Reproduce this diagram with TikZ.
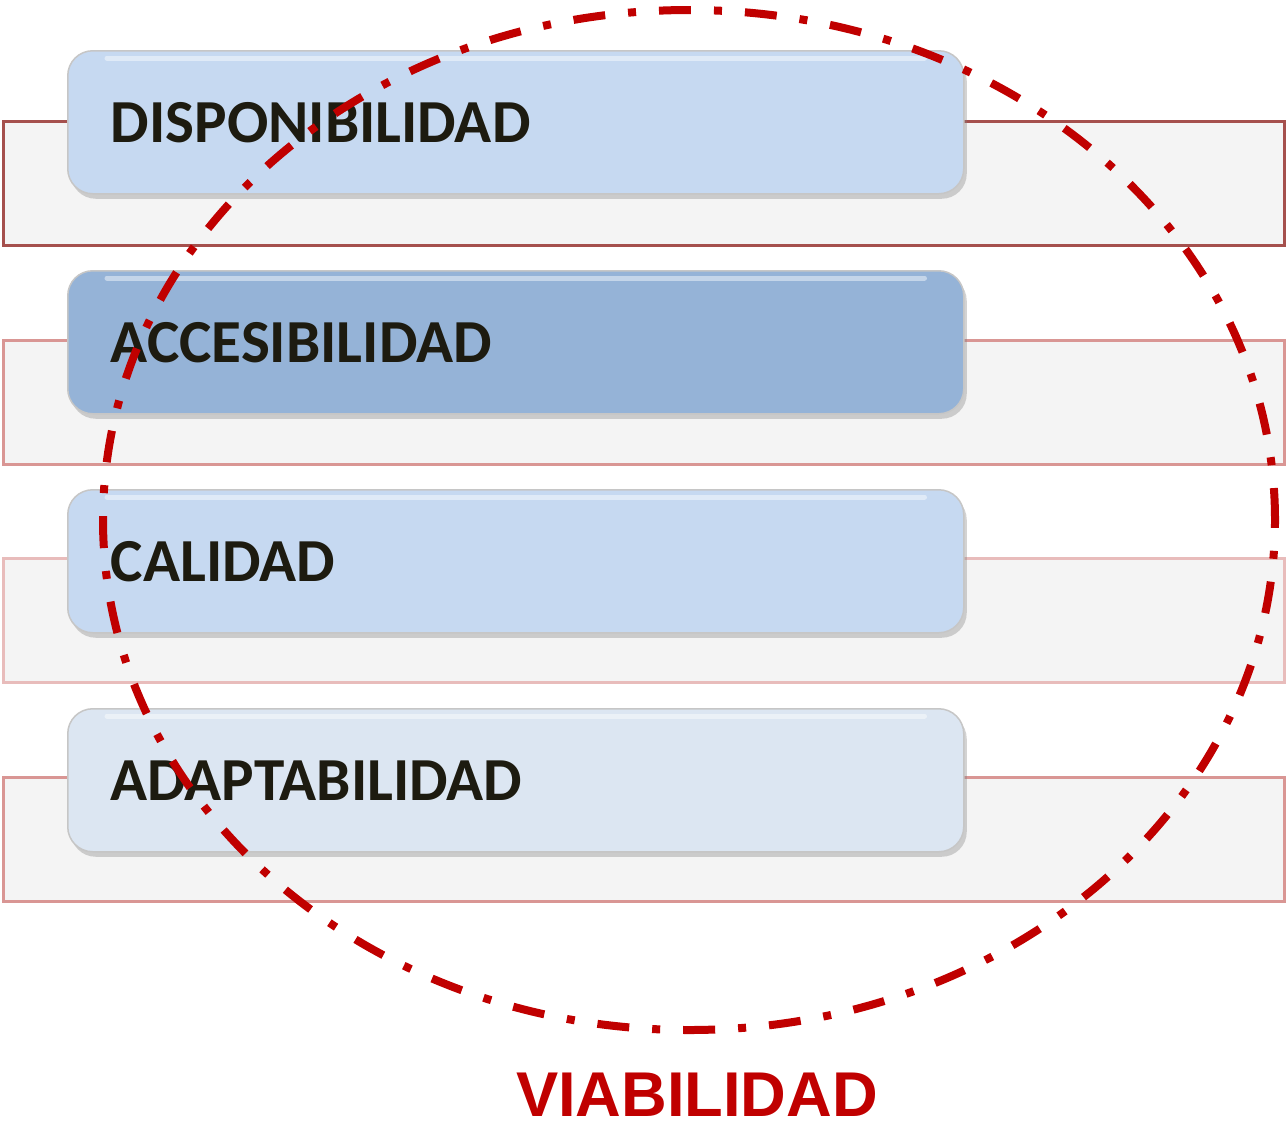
\documentclass[tikz,border=0pt]{standalone}
\usepackage{fontspec}
\setmainfont{Carlito}
\newfontfamily\arialfont{Liberation Sans}
\usetikzlibrary{shadows}

\definecolor{grisfila}{HTML}{F4F4F4}
\definecolor{bordeA}{HTML}{A5504D}
\definecolor{bordeB}{HTML}{D99694}
\definecolor{bordeC}{HTML}{E8BCBB}
\definecolor{azulclaro}{HTML}{C6D9F1}
\definecolor{azulmedio}{HTML}{95B3D7}
\definecolor{azulpalido}{HTML}{DCE6F2}
\definecolor{rojo}{HTML}{C00000}
\definecolor{texto}{HTML}{1D1B10}

\tikzset{
    fila/.style={fill=grisfila, line width=0.3mm},
    caja/.style={rounded corners=2.5mm, draw=gray!45, line width=0.15mm,
        minimum width=89.6mm, minimum height=14.3mm, text width=81mm,
        inner xsep=4.3mm, align=left, text=texto,
        font=\bfseries\fontsize{17.4}{17.4}\selectfont,
        drop shadow={opacity=0.35, shadow xshift=0.3mm, shadow yshift=-0.5mm}},
    circulo/.style={rojo, line width=0.8mm,
        dash pattern=on 3.2mm off 2.3mm on 0.8mm off 2.3mm}
}

\begin{document}
\begin{tikzpicture}[x=0.1mm,y=-0.1mm]
    \useasboundingbox (0,0) rectangle (1287,1124);

    % filas de fondo
    \foreach \y/\c in {121/bordeA,340/bordeB,558/bordeC,777/bordeB}
        \draw[fila,draw=\c] (3,\y) rectangle ++(1281,124);

    % cajas
    \foreach \y/\f/\t [count=\i] in {50/azulclaro/DISPONIBILIDAD,270/azulmedio/ACCESIBILIDAD,489/azulclaro/CALIDAD,708/azulpalido/ADAPTABILIDAD}
    {
        \node[caja,fill=\f,anchor=north west] (caja\i) at (67,\y) {\t};
        \draw[white,opacity=0.45,line width=0.5mm,line cap=round]
            ([xshift=4mm,yshift=-0.8mm]caja\i.north west) -- ([xshift=-4mm,yshift=-0.8mm]caja\i.north east);
    }

    % circulo
    \draw[circulo] (689,520) ellipse [x radius=58.6mm, y radius=51mm];
    \node[text=rojo,inner sep=0pt,font=\arialfont\bfseries\fontsize{18}{18}\selectfont] (titulo) at (697,1095) {VIABILIDAD};
\end{tikzpicture}
\end{document}
